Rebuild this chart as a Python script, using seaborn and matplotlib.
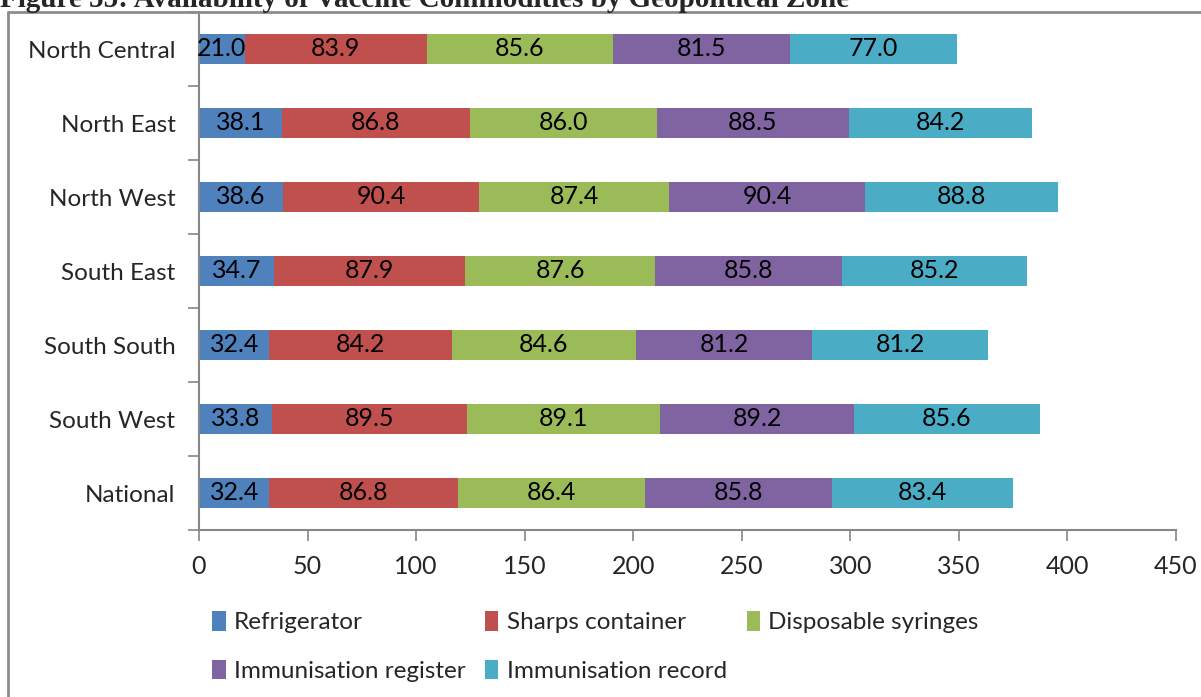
import numpy as np
import pandas as pd
import matplotlib
matplotlib.use("Agg")
import matplotlib.pyplot as plt
import seaborn as sns
from matplotlib.lines import Line2D
from matplotlib.patches import Patch

zones = ["North Central", "North East", "North West", "South East", "South South", "South West", "National"]
series = ["Refrigerator", "Sharps container", "Disposable syringes", "Immunisation register", "Immunisation record"]
refrigerator = [21.0, 38.1, 38.6, 34.7, 32.4, 33.8, 32.4]
sharps = [83.9, 86.8, 90.4, 87.9, 84.2, 89.5, 86.8]
syringes = [85.6, 86.0, 87.4, 87.6, 84.6, 89.1, 86.4]
register = [81.5, 88.5, 90.4, 85.8, 81.2, 89.2, 85.8]
record = [77.0, 84.2, 88.8, 85.2, 81.2, 85.6, 83.4]
colors = ["#4F81BD", "#C0504D", "#9BBB59", "#8064A2", "#4BACC6"]
xticks = [0, 50, 100, 150, 200, 250, 300, 350, 400, 450]

sns.set_theme(style="white")
plt.rcParams["font.family"] = ["Lato", "DejaVu Sans"]

values = np.array([refrigerator, sharps, syringes, register, record])
cum = np.cumsum(values, axis=0)

fig = plt.figure(figsize=(12.01, 6.97), dpi=100)
ax = fig.add_axes([199 / 1201, 1 - 530 / 697, 977 / 1201, 518 / 697])

for i in range(len(series) - 1, -1, -1):
    df = pd.DataFrame({"zone": zones, "value": cum[i]})
    sns.barplot(data=df, x="value", y="zone", orient="h", color=colors[i],
                saturation=1, width=0.4, ax=ax, linewidth=0, order=zones)

starts = cum - values
for i in range(len(series)):
    for j in range(len(zones)):
        ax.text(starts[i, j] + values[i, j] / 2, j, f"{values[i, j]:.1f}",
                ha="center", va="center", fontsize=18, color="black")

ax.set_xlim(0, 450)
ax.set_ylim(6.5, -0.5)
ax.set_xticks(xticks)
ax.set_xticklabels([str(t) for t in xticks], fontsize=18)
ax.set_yticks(range(len(zones)))
ax.set_yticklabels(zones, fontsize=17.5)
ax.set_yticks(np.arange(-0.5, 7.0, 1.0), minor=True)
ax.tick_params(axis="y", which="major", length=0, pad=17)
ax.tick_params(axis="y", which="minor", length=8, width=1.2, color="#868686", direction="out", left=True)
ax.tick_params(axis="x", which="major", length=8, width=1.2, color="#868686", direction="out", bottom=True, pad=10)
ax.set_xlabel("")
ax.set_ylabel("")
for s in ["top", "right"]:
    ax.spines[s].set_visible(False)
for s in ["left", "bottom"]:
    ax.spines[s].set_color("#868686")
    ax.spines[s].set_linewidth(1.5)
ax.grid(False)

handles = [Patch(facecolor=c, edgecolor="none") for c in colors]
order = [0, 3, 1, 4, 2]
leg = fig.legend([handles[k] for k in order], [series[k] for k in order],
                 ncol=3, loc="upper left", bbox_to_anchor=(200 / 1201, 1 - 599 / 697),
                 frameon=False, fontsize=17.5, handlelength=0.55, handleheight=0.85,
                 handletextpad=0.35, columnspacing=0.8, labelspacing=1.1, borderpad=0)

# outer frame
fig.add_artist(Line2D([8 / 1201, 8 / 1201], [0, 1 - 12 / 697], color="#8c8c8c", lw=2))
fig.add_artist(Line2D([8 / 1201, 1], [1 - 12 / 697, 1 - 12 / 697], color="#8c8c8c", lw=2))

fig.text(0, 1 - 7 / 697, "Figure 55: Availability of Vaccine Commodities by Geopolitical Zone",
         fontsize=21, fontweight="bold", family="Liberation Serif", va="baseline", ha="left")

fig.savefig("out.png", dpi=100)
